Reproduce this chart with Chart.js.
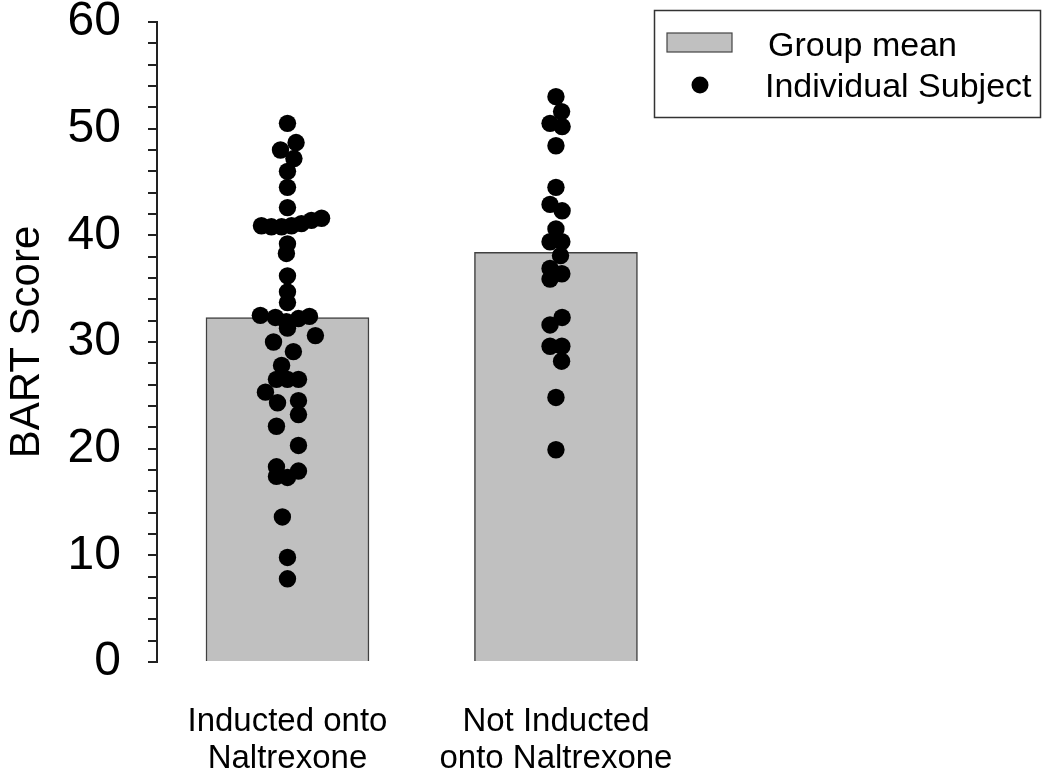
<!DOCTYPE html>
<html>
<head>
<meta charset="utf-8">
<script src="https://cdn.jsdelivr.net/npm/chart.js@4.4.1/dist/chart.umd.min.js"></script>
<style>
  html, body { margin: 0; padding: 0; background: #fff; }
  #wrap { width: 1050px; height: 772px; }
</style>
</head>
<body>
<div id="wrap"><canvas id="chart"></canvas></div>
<script>
// Groups (x positions 1 and 2) and their labels
const groupLabels = [['Inducted onto', 'Naltrexone'], ['Not Inducted', 'onto Naltrexone']];
const groupPositions = [1, 2];

// Group mean BART score (bar height)
const groupMeans = [32.3, 38.4];

// Individual subjects, inducted group
const inductedScores = [
  50.5, 48.7, 48.0, 47.2, 46.0, 44.5, 42.6,
  40.9, 40.8, 40.8, 40.9, 41.1, 41.4, 41.6,
  39.2, 38.3, 36.2, 34.7, 33.7,
  32.5, 32.3, 31.9, 32.2, 32.4, 31.3,
  30.6, 30.0, 29.1, 27.8, 26.5, 26.5, 26.5,
  25.3, 24.3, 24.5, 23.2, 22.1, 20.3,
  18.3, 17.4, 17.3, 17.9, 13.6, 9.8, 7.8
];
// horizontal spread of each dot around its group (x units)
const inductedJitter = [
  0, 0.032, -0.026, 0.024, 0, 0, 0,
  -0.097, -0.060, -0.022, 0.015, 0.052, 0.089, 0.127,
  0, -0.004, 0, 0, 0,
  -0.101, -0.045, -0.004, 0.041, 0.082, 0,
  0.104, -0.052, 0.022, -0.022, -0.041, 0, 0.041,
  -0.082, -0.037, 0.041, 0.041, -0.041, 0.041,
  -0.041, -0.041, 0, 0.041, -0.019, 0, 0
];

// Individual subjects, not inducted group
const notInductedScores = [
  53.0, 51.6, 50.5, 50.2, 48.4, 44.5, 42.9, 42.3,
  40.6, 39.4, 39.4, 38.1, 36.9, 36.4, 35.9,
  32.3, 31.6, 29.6, 29.6, 28.2, 24.8, 19.9
];
const notInductedJitter = [
  0, 0.021, -0.022, 0.023, 0, 0, -0.022, 0.023,
  0, -0.022, 0.022, 0.017, -0.022, 0.022, -0.022,
  0.023, -0.022, -0.022, 0.022, 0.021, 0, 0
];

const yMajorStep = 10;

function dots(pos, scores, jitter) {
  return scores.map((s, i) => ({ x: pos + jitter[i], y: s }));
}

// draws the boxed legend in the top right corner
const boxLegend = {
  id: 'boxLegend',
  afterDraw(chart) {
    const ctx = chart.ctx;
    ctx.save();
    ctx.strokeStyle = '#333';
    ctx.lineWidth = 1.5;
    ctx.strokeRect(654.5, 10.5, 386, 107);

    ctx.fillStyle = '#c0c0c0';
    ctx.fillRect(667, 33, 65, 19);
    ctx.strokeStyle = '#444';
    ctx.lineWidth = 1.2;
    ctx.strokeRect(667, 33, 65, 19);

    ctx.fillStyle = '#000';
    ctx.beginPath();
    ctx.arc(700, 85, 8.5, 0, Math.PI * 2);
    ctx.fill();

    ctx.font = '34px "Liberation Sans", Arial, sans-serif';
    ctx.textBaseline = 'alphabetic';
    ctx.fillText('Group mean', 768, 56);
    ctx.fillText('Individual Subject', 765, 97);
    ctx.restore();
  }
};

new Chart(document.getElementById('chart'), {
  type: 'bar',
  data: {
    datasets: [
      {
        type: 'scatter',
        label: 'Individual Subject',
        data: dots(groupPositions[0], inductedScores, inductedJitter)
          .concat(dots(groupPositions[1], notInductedScores, notInductedJitter)),
        backgroundColor: '#000',
        borderColor: '#000',
        pointRadius: 8.7,
        borderWidth: 0,
        order: 1
      },
      {
        type: 'bar',
        label: 'Group mean',
        data: groupPositions.map((p, i) => ({ x: p, y: groupMeans[i] })),
        backgroundColor: '#c0c0c0',
        borderColor: '#404040',
        borderWidth: 1.5,
        barThickness: 163,
        order: 2
      }
    ]
  },
  options: {
    responsive: true,
    maintainAspectRatio: false,
    animation: false,
    devicePixelRatio: 1,
    layout: { padding: { top: 22, right: 10, left: 0, bottom: 0 } },
    plugins: {
      legend: { display: false },
      tooltip: { enabled: false }
    },
    scales: {
      x: {
        type: 'linear',
        offset: false,
        min: 0.514,
        max: 3.803,
        afterBuildTicks: (scale) => {
          scale.ticks = groupPositions.map(v => ({ value: v }));
        },
        afterFit: (scale) => {
          scale.height = 110;
          scale.paddingLeft = 0;
          scale.paddingRight = 0;
        },
        ticks: {
          callback: (v) => groupLabels[groupPositions.indexOf(v)] || '',
          font: { family: '"Liberation Sans", Arial, sans-serif', size: 33, lineHeight: 1.12 },
          color: '#000',
          padding: 41,
          maxRotation: 0,
          autoSkip: false
        },
        grid: { display: false, drawTicks: false },
        border: { display: false }
      },
      y: {
        min: 0,
        max: 60,
        afterFit: (scale) => {
          scale.width = 157;
          scale.paddingTop = 0;
          scale.paddingBottom = 0;
        },
        ticks: {
          stepSize: 2,
          autoSkip: false,
          callback: (v) => (v % yMajorStep === 0 ? v : ''),
          font: { family: '"Liberation Sans", Arial, sans-serif', size: 48 },
          color: '#000',
          padding: 27
        },
        grid: { drawOnChartArea: false, tickLength: 9, color: '#222', lineWidth: 2 },
        border: { color: '#222', width: 2 },
        title: {
          display: true,
          text: 'BART Score',
          font: { family: '"Liberation Sans", Arial, sans-serif', size: 42 },
          color: '#000',
          padding: { top: 2, bottom: 0 }
        }
      }
    }
  },
  plugins: [boxLegend]
});
</script>
</body>
</html>
